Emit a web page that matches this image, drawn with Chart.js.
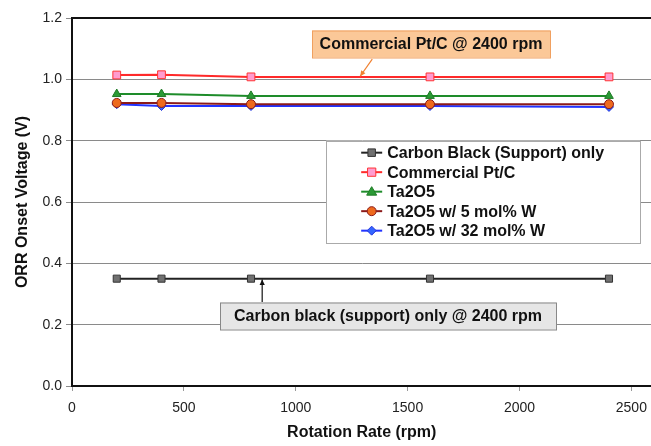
<!DOCTYPE html>
<html>
<head>
<meta charset="utf-8">
<script src="https://cdn.jsdelivr.net/npm/chart.js@4"></script>
<style>
  html, body { margin: 0; padding: 0; background: #fff; overflow: hidden; }
  /* the source figure is cropped on the right, so the canvas runs a little past the window */
  #wrap { width: 658px; height: 446px; }
</style>
</head>
<body>
<div id="wrap"><canvas id="chart"></canvas></div>
<script>
// Rotation rates (rpm)
const rpm = [200, 400, 800, 1600, 2400];

// Onset voltage (V) for each sample
const carbonBlack = [0.35, 0.35, 0.35, 0.35, 0.35];
const ptC = [1.014, 1.015, 1.008, 1.008, 1.008];
const ta2o5 = [0.952, 0.952, 0.946, 0.946, 0.946];
const ta2o5W5 = [0.923, 0.923, 0.919, 0.919, 0.919];
const ta2o5W32 = [0.919, 0.913, 0.913, 0.913, 0.910];

const seriesNames = ['Carbon Black (Support) only', 'Commercial Pt/C', 'Ta2O5', 'Ta2O5 w/ 5 mol% W', 'Ta2O5 w/ 32 mol% W'];
const yTicks = [0, 0.2, 0.4, 0.6, 0.8, 1.0, 1.2];
const xTicks = [0, 500, 1000, 1500, 2000, 2500];

const FONT = '"Liberation Sans", Arial, sans-serif';

function pts(vals) {
  return rpm.map((r, i) => ({ x: r, y: vals[i] }));
}

// Callout boxes, placed in data units (left/right in rpm, centre in V)
const callouts = [
  { text: 'Commercial Pt/C @ 2400 rpm', x1: 1073, x2: 2138, cy: 1.115, fill: '#fbc898', stroke: '#f0a060',
    arrow: { x1: 1342, y1: 1.066, x2: 1288, y2: 1.010, color: '#f08030' } },
  { text: 'Carbon black (support) only @ 2400 rpm', x1: 662, x2: 2165, cy: 0.228, fill: '#e6e6e6', stroke: '#888',
    arrow: { x1: 850, y1: 0.274, x2: 850, y2: 0.347, color: '#111' } }
];

const overlayPlugin = {
  id: 'overlay',
  afterDatasetsDraw(chart) {
    const ctx = chart.ctx;
    const xs = chart.scales.x, ys = chart.scales.y;

    // legend box inside plot
    const lx = xs.getPixelForValue(1136), ly = ys.getPixelForValue(0.8);
    ctx.save();
    ctx.fillStyle = '#fff';
    ctx.strokeStyle = '#aaa';
    ctx.lineWidth = 1;
    ctx.fillRect(lx, ly, 314, 102);
    ctx.strokeRect(Math.round(lx) + 0.5, Math.round(ly) + 0.5, 314, 102);
    ctx.font = 'bold 16px ' + FONT;
    ctx.textBaseline = 'middle';
    chart.data.datasets.forEach((ds, i) => {
      const y = ly + 12 + i * 19.5;
      ctx.strokeStyle = ds.borderColor;
      ctx.lineWidth = 2;
      ctx.beginPath();
      ctx.moveTo(lx + 35, y);
      ctx.lineTo(lx + 56, y);
      ctx.stroke();
      drawMarker(ctx, ds, lx + 45.5, y);
      ctx.fillStyle = '#111';
      ctx.fillText(ds.label, lx + 61, y + 1);
    });

    // callouts
    callouts.forEach(c => {
      const a = c.arrow;
      const x1 = xs.getPixelForValue(a.x1), y1 = ys.getPixelForValue(a.y1);
      const x2 = xs.getPixelForValue(a.x2), y2 = ys.getPixelForValue(a.y2);
      ctx.strokeStyle = a.color;
      ctx.fillStyle = a.color;
      ctx.lineWidth = 1.2;
      ctx.beginPath();
      ctx.moveTo(x1, y1);
      ctx.lineTo(x2, y2);
      ctx.stroke();
      const ang = Math.atan2(y2 - y1, x2 - x1);
      ctx.beginPath();
      ctx.moveTo(x2, y2);
      ctx.lineTo(x2 - 6 * Math.cos(ang - 0.45), y2 - 6 * Math.sin(ang - 0.45));
      ctx.lineTo(x2 - 6 * Math.cos(ang + 0.45), y2 - 6 * Math.sin(ang + 0.45));
      ctx.closePath();
      ctx.fill();

      ctx.font = 'bold 16px ' + FONT;
      const bl = Math.round(xs.getPixelForValue(c.x1)), br = Math.round(xs.getPixelForValue(c.x2));
      const h = 27;
      const cx = (bl + br) / 2, cy = Math.round(ys.getPixelForValue(c.cy));
      ctx.fillStyle = c.fill;
      ctx.fillRect(bl, cy - h / 2, br - bl, h);
      ctx.strokeStyle = c.stroke;
      ctx.lineWidth = 1;
      ctx.strokeRect(bl + 0.5, cy - h / 2 + 0.5, br - bl, h);
      ctx.fillStyle = '#111';
      ctx.textAlign = 'center';
      ctx.fillText(c.text, cx, cy + 1);
      ctx.textAlign = 'left';
    });

    // top frame line
    ctx.strokeStyle = '#111';
    ctx.lineWidth = 2;
    ctx.beginPath();
    ctx.moveTo(chart.chartArea.left - 1, chart.chartArea.top);
    ctx.lineTo(chart.chartArea.right, chart.chartArea.top);
    ctx.stroke();
    ctx.restore();
  }
};

function drawMarker(ctx, ds, x, y) {
  ctx.save();
  ctx.fillStyle = ds.pointBackgroundColor;
  ctx.strokeStyle = ds.pointBorderColor;
  ctx.lineWidth = 1;
  const r = ds.pointRadius;
  ctx.beginPath();
  if (ds.pointStyle === 'rect') {
    ctx.rect(x - r * 0.75, y - r * 0.75, r * 1.5, r * 1.5);
  } else if (ds.pointStyle === 'triangle') {
    ctx.moveTo(x, y - r);
    ctx.lineTo(x + r, y + r * 0.7);
    ctx.lineTo(x - r, y + r * 0.7);
    ctx.closePath();
  } else if (ds.pointStyle === 'rectRot') {
    ctx.moveTo(x, y - r);
    ctx.lineTo(x + r, y);
    ctx.lineTo(x, y + r);
    ctx.lineTo(x - r, y);
    ctx.closePath();
  } else {
    ctx.arc(x, y, r, 0, Math.PI * 2);
  }
  ctx.fill();
  ctx.stroke();
  ctx.restore();
}

function series(label, vals, line, fill, border, style, radius) {
  return {
    label: label,
    data: pts(vals),
    borderColor: line,
    borderWidth: 2,
    pointBackgroundColor: fill,
    pointBorderColor: border,
    pointBorderWidth: 1,
    pointStyle: style,
    pointRadius: radius,
    tension: 0
  };
}

new Chart(document.getElementById('chart'), {
  type: 'line',
  data: {
    datasets: [
      series(seriesNames[0], carbonBlack, '#222', '#707070', '#333', 'rect', 5),
      series(seriesNames[1], ptC, '#ff2a2a', '#ff9ccf', '#ff3333', 'rect', 5.5),
      series(seriesNames[2], ta2o5, '#1e8c2a', '#2a9a35', '#1e7a25', 'triangle', 5),
      series(seriesNames[3], ta2o5W5, '#8b1a1a', '#ee6a1e', '#8b1a1a', 'circle', 4.5),
      series(seriesNames[4], ta2o5W32, '#2233ff', '#3366ff', '#2233dd', 'rectRot', 4.5)
    ]
  },
  options: {
    responsive: true,
    maintainAspectRatio: false,
    animation: false,
    layout: { padding: { top: 18, right: 0, left: 0, bottom: 0 } },
    plugins: { legend: { display: false }, tooltip: { enabled: false } },
    scales: {
      x: {
        type: 'linear',
        min: 0,
        max: 2590,
        afterBuildTicks: s => { s.ticks = xTicks.map(v => ({ value: v })); },
        afterFit: s => { s.height = 60; },
        ticks: { color: '#222', font: { family: FONT, size: 14 }, padding: 9, maxRotation: 0,
          callback: v => String(v) },
        grid: { drawOnChartArea: false, drawTicks: true, tickLength: 5, color: '#999' },
        border: { color: '#111', width: 2 },
        title: { display: true, text: 'Rotation Rate (rpm)', color: '#111',
          font: { family: FONT, size: 16, weight: 'bold' }, padding: { top: 12 } }
      },
      y: {
        min: 0,
        max: 1.2,
        afterBuildTicks: s => { s.ticks = yTicks.map(v => ({ value: v })); },
        afterFit: s => { s.width = 72; },
        ticks: { color: '#222', font: { family: FONT, size: 14 }, padding: 4,
          callback: v => Number(v).toFixed(1) },
        grid: { color: '#8a8a8a', lineWidth: 1, tickLength: 6, tickColor: '#8a8a8a' },
        border: { color: '#111', width: 2 },
        title: { display: true, text: 'ORR Onset Voltage (V)', color: '#111',
          font: { family: FONT, size: 16, weight: 'bold' }, padding: { top: 13, bottom: 0 } }
      }
    }
  },
  plugins: [overlayPlugin]
});
</script>
</body>
</html>
